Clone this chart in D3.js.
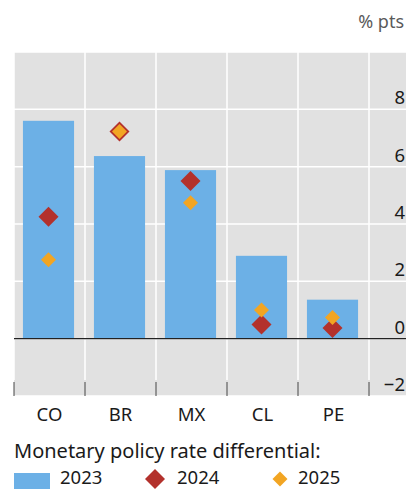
<!DOCTYPE html>
<html><head><meta charset="utf-8">
<script src="https://cdn.jsdelivr.net/npm/d3@7"></script>
<style>body{margin:0;background:#fff}svg{display:block}text{font-family:"Noto Sans","Open Sans",sans-serif}</style>
</head><body>
<script>
const categories = ["CO","BR","MX","CL","PE"];
const values2023 = [7.6, 6.37, 5.88, 2.89, 1.36];
const values2024 = [4.25, 7.23, 5.5, 0.49, 0.37];
const values2025 = [2.75, 7.23, 4.74, 1.0, 0.74];
const yTicks = [-2, 0, 2, 4, 6, 8];
const seriesNames = ["2023","2024","2025"];
const legendTitle = "Monetary policy rate differential:";
const unitLabel = "% pts";

(function () {
const W = 406, H = 489;
const colBar = "#6cb0e6", colRed = "#b3312c", colOrange = "#f2a523", bg = "#e1e1e1";
const svg = d3.select("body").append("svg").attr("width", W).attr("height", H);

const pL = 14, pR = 406, pT = 52, pB = 396, catRight = 369;
const x = d3.scaleBand().domain(categories).range([pL, catRight]).padding(0);
const y = d3.scaleLinear().domain([-2, 10]).range([pB, pT]);

svg.append("rect").attr("x", pL).attr("y", pT).attr("width", pR - pL).attr("height", pB - pT).attr("fill", bg);

// horizontal gridlines
svg.append("g").selectAll("line").data(yTicks.concat([10])).join("line")
  .attr("x1", pL).attr("x2", pR).attr("y1", d => y(d)).attr("y2", d => y(d))
  .attr("stroke", "#fff").attr("stroke-width", 1.5);
// vertical gridlines
const bounds = categories.map(c => x(c)).concat([catRight]);
svg.append("g").selectAll("line").data(bounds).join("line")
  .attr("x1", d => d).attr("x2", d => d).attr("y1", pT).attr("y2", pB - 16)
  .attr("stroke", "#fff").attr("stroke-width", 1.5);
// bottom ticks
svg.append("g").selectAll("line").data(bounds).join("line")
  .attr("x1", d => d).attr("x2", d => d).attr("y1", pB - 14).attr("y2", pB)
  .attr("stroke", "#444").attr("stroke-width", 1);

// bars
const bw = x.bandwidth() * 0.72;
svg.append("g").selectAll("rect").data(categories).join("rect")
  .attr("x", c => x(c) + (x.bandwidth() - bw) / 2 - 1)
  .attr("width", bw)
  .attr("y", (c, i) => y(values2023[i]))
  .attr("height", (c, i) => y(0) - y(values2023[i]))
  .attr("fill", colBar);

// zero line
svg.append("line").attr("x1", pL).attr("x2", pR).attr("y1", y(0)).attr("y2", y(0))
  .attr("stroke", "#222").attr("stroke-width", 1.3);

const bigDiamond = d3.symbol().type(d3.symbolSquare).size(200);
const smallDiamond = d3.symbol().type(d3.symbolSquare).size(112);
svg.append("g").selectAll("path").data(categories).join("path")
  .attr("d", bigDiamond)
  .attr("transform", (c, i) => `translate(${x(c) + x.bandwidth() / 2 - 1},${y(values2024[i])}) rotate(45)`)
  .attr("fill", colRed);
svg.append("g").selectAll("path").data(categories).join("path")
  .attr("d", smallDiamond)
  .attr("transform", (c, i) => `translate(${x(c) + x.bandwidth() / 2 - 1},${y(values2025[i])}) rotate(45)`)
  .attr("fill", colOrange);

// y tick labels
svg.append("g").selectAll("text").data(yTicks).join("text")
  .attr("x", 405).attr("y", d => y(d) - 5).attr("text-anchor", "end")
  .attr("font-size", 18.5).attr("fill", "#1a1a1a")
  .text(d => d < 0 ? "\u2212" + Math.abs(d) : d);

// category labels
svg.append("g").selectAll("text").data(categories).join("text")
  .attr("x", c => x(c) + x.bandwidth() / 2).attr("y", 421).attr("text-anchor", "middle")
  .attr("font-size", 18.5).attr("fill", "#1a1a1a").text(c => c);

svg.append("text").attr("x", 404).attr("y", 28).attr("text-anchor", "end")
  .attr("font-size", 18).attr("fill", "#5a5a5a").text(unitLabel);

svg.append("text").attr("x", 14).attr("y", 457.5).attr("font-size", 20).attr("fill", "#1a1a1a").text(legendTitle);

// legend
const lg = svg.append("g");
lg.append("rect").attr("x", 14).attr("y", 473).attr("width", 36).attr("height", 16).attr("fill", colBar);
lg.append("text").attr("x", 60).attr("y", 483.5).attr("font-size", 18.5).attr("fill", "#1a1a1a").text(seriesNames[0]);
lg.append("path").attr("d", bigDiamond).attr("transform", "translate(155,479) rotate(45)").attr("fill", colRed);
lg.append("text").attr("x", 177).attr("y", 483.5).attr("font-size", 18.5).attr("fill", "#1a1a1a").text(seriesNames[1]);
lg.append("path").attr("d", smallDiamond).attr("transform", "translate(280,479) rotate(45)").attr("fill", colOrange);
lg.append("text").attr("x", 298).attr("y", 483.5).attr("font-size", 18.5).attr("fill", "#1a1a1a").text(seriesNames[2]);
})();
</script>
</body></html>
